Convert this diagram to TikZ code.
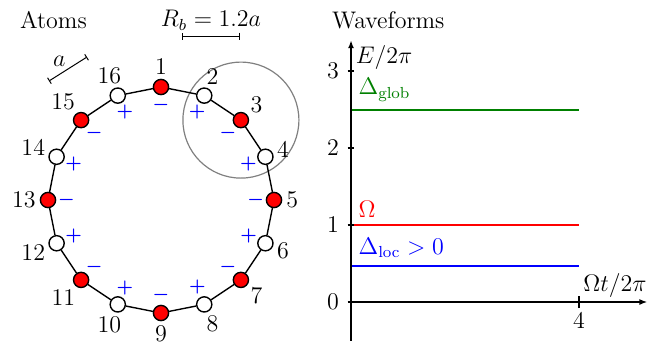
\documentclass[tikz,border=0pt]{standalone}
\usepackage{amsmath,amssymb,bm}
\usepackage{xcolor}
\usepackage{tikz}
\usetikzlibrary{arrows.meta,positioning}

\begin{document}
\begin{tikzpicture}[
  x=0.5pt, y=0.5pt,
  font=\fontsize{12}{14}\selectfont,
  atom/.style={circle, draw, line width=0.7pt, inner sep=0pt, minimum size=7.6pt},
  redatom/.style={atom, fill=red, label={[sgn]#1:$\bm{-}$}},
  whiteatom/.style={atom, fill=white, label={[sgn]#1:$\bm{+}$}},
  num/.style={inner sep=1.5pt, label distance=0.3pt},
  sgn/.style={text=blue, anchor=center, label distance=5pt, font=\fontsize{9}{10}\selectfont},
  ring/.style={line width=0.7pt},
  scalebar/.style={{Bar[width=3.5pt]}-{Bar[width=3.5pt]}, line width=0.5pt},
  blockade/.style={gray, line width=0.6pt},
  axis/.style={-{Latex[length=4pt,width=3pt]}, line width=0.8pt},
  tk/.style={line width=0.8pt},
  wave/.style={line width=1pt}
]
\useasboundingbox (0,0) rectangle (668,345);

% titles
\node[anchor=west] (atomstitle) at (13,325) {Atoms};
\node[anchor=west] (wavetitle) at (325,325) {Waveforms};

% ring of 16 atoms
\begin{scope}[shift={(161,145)}]
\coordinate (c3) at (45:113);
\draw[blockade] (c3) circle[radius=58];
\node[redatom=270,     label={[num, anchor=270]90:1}]      (a1)  at (90:113) {};
\node[whiteatom=247.5, label={[num, anchor=247.5]67.5:2}]  (a2)  at (67.5:113) {};
\node[redatom=225,     label={[num, anchor=225]45:3}]      (a3)  at (45:113) {};
\node[whiteatom=202.5, label={[num, anchor=202.5]22.5:4}]  (a4)  at (22.5:113) {};
\node[redatom=180,     label={[num, anchor=180]0:5}]       (a5)  at (0:113) {};
\node[whiteatom=157.5, label={[num, anchor=157.5]-22.5:6}] (a6)  at (-22.5:113) {};
\node[redatom=135,     label={[num, anchor=135]-45:7}]     (a7)  at (-45:113) {};
\node[whiteatom=112.5, label={[num, anchor=112.5]-67.5:8}] (a8)  at (-67.5:113) {};
\node[redatom=90,      label={[num, anchor=90]-90:9}]      (a9)  at (-90:113) {};
\node[whiteatom=67.5,  label={[num, anchor=67.5]-112.5:10}] (a10) at (-112.5:113) {};
\node[redatom=45,      label={[num, anchor=45]-135:11}]    (a11) at (-135:113) {};
\node[whiteatom=22.5,  label={[num, anchor=22.5]-157.5:12}] (a12) at (-157.5:113) {};
\node[redatom=0,       label={[num, anchor=0]180:13}]      (a13) at (180:113) {};
\node[whiteatom=-22.5, label={[num, anchor=-22.5]157.5:14}] (a14) at (157.5:113) {};
\node[redatom=-45,     label={[num, anchor=-45]135:15}]    (a15) at (135:113) {};
\node[whiteatom=-67.5, label={[num, anchor=-67.5]112.5:16}] (a16) at (112.5:113) {};
\end{scope}
\draw[ring] (a1) -- (a2) -- (a3) -- (a4) -- (a5) -- (a6) -- (a7) -- (a8)
  -- (a9) -- (a10) -- (a11) -- (a12) -- (a13) -- (a14) -- (a15) -- (a16) -- (a1);

% scale bars
\coordinate (rbleft) at (182,309);
\coordinate (rbright) at (240,309);
\draw[scalebar] (rbleft) -- node[midway, above, inner sep=2.5pt] (rblab) {$R_b = 1.2a$} (rbright);
\coordinate (aleft) at (49,264);
\coordinate (aright) at (87,288);
\draw[scalebar] (aleft) -- node[midway, above left, inner sep=1pt] (alab) {$a$} (aright);

% waveforms
\begin{scope}[shift={(175.5pt,21.5pt)}, x=28.5pt, y=38.5pt]
\draw[wave, green!50!black] (0,2.5) node[anchor=south west] (globlab) {$\Delta_{\text{glob}}$} -- (4,2.5);
\draw[wave, red] (0,1) node[anchor=south west] (omlab) {$\Omega$} -- (4,1);
\draw[wave, blue] (0,0.47) node[anchor=south west] (loclab) {$\Delta_{\text{loc}} > 0$} -- (4,0.47);

\draw[axis] (0,0) -- (5.2,0);
\draw[axis] (0,-0.5) -- (0,3.4) node[anchor=north west, inner sep=2pt] (ylab) {$E/2\pi$};
\node[anchor=south west, inner sep=2pt] (xlab) at (4,0) {$\Omega t/2\pi$};

\draw[tk] (-0.06,0) -- (0.06,0);
\draw[tk] (-0.06,1) -- (0.06,1);
\draw[tk] (-0.06,2) -- (0.06,2);
\draw[tk] (-0.06,3) -- (0.06,3);
\node[anchor=east, inner sep=3pt] (y0) at (-0.1,0) {0};
\node[anchor=east, inner sep=3pt] (y1) at (-0.1,1) {1};
\node[anchor=east, inner sep=3pt] (y2) at (-0.1,2) {2};
\node[anchor=east, inner sep=3pt] (y3) at (-0.1,3) {3};
\draw[tk] (4,-0.08) -- (4,0.08);
\node[anchor=north, inner sep=2pt] (x4) at (4,-0.08) {4};
\end{scope}
\end{tikzpicture}
\end{document}
